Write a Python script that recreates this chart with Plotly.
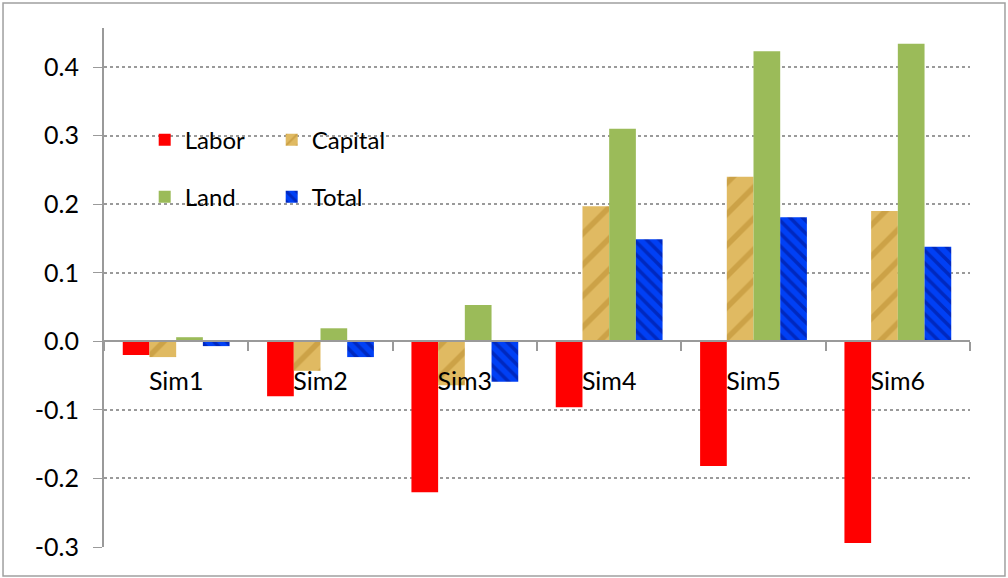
import plotly.graph_objects as go

categories = ["Sim1", "Sim2", "Sim3", "Sim4", "Sim5", "Sim6"]
labor = [-0.020, -0.080, -0.220, -0.096, -0.182, -0.294]
capital = [-0.023, -0.043, -0.064, 0.197, 0.240, 0.190]
land = [0.006, 0.019, 0.053, 0.310, 0.423, 0.434]
total = [-0.007, -0.023, -0.059, 0.149, 0.181, 0.138]
y_ticks = [0.4, 0.3, 0.2, 0.1, 0.0, -0.1, -0.2, -0.3]
y_tick_text = ["0.4", "0.3", "0.2", "0.1", "0.0", "-0.1", "-0.2", "-0.3"]

FONT = "Lato"
fig = go.Figure()
fig.add_trace(go.Bar(name="Labor", x=categories, y=labor,
                     marker=dict(color="#FF0000", line=dict(width=0)), legend="legend"))
fig.add_trace(go.Bar(name="Capital", x=categories, y=capital,
                     marker=dict(color="#DDB45C", line=dict(width=0),
                                 pattern=dict(shape="/", fgcolor="#B8892C", bgcolor="#E0BA62",
                                              size=22, solidity=0.25)),
                     legend="legend"))
fig.add_trace(go.Bar(name="Land", x=categories, y=land,
                     marker=dict(color="#9BBB59", line=dict(width=0)), legend="legend2"))
fig.add_trace(go.Bar(name="Total", x=categories, y=total,
                     marker=dict(color="#0035E0", line=dict(width=0),
                                 pattern=dict(shape="\\", fgcolor="#00108A", bgcolor="#0040F5",
                                              size=9, solidity=0.4)),
                     legend="legend2"))

ymin, ymax = -0.3, 0.457
zero_pos = (0 - ymin) / (ymax - ymin)

fig.update_layout(
    width=1008, height=578,
    margin=dict(l=104, r=38, t=28, b=31),
    paper_bgcolor="white", plot_bgcolor="white",
    barmode="group", bargap=0.26, bargroupgap=0,
    font=dict(family=FONT, size=24, color="black"),
    legend=dict(orientation="h", x=0.047, y=0.784, xanchor="left", yanchor="middle",
                entrywidth=82, entrywidthmode="pixels", font=dict(size=24, family=FONT),
                bgcolor="rgba(0,0,0,0)", traceorder="normal", itemclick=False),
    legend2=dict(orientation="h", x=0.047, y=0.674, xanchor="left", yanchor="middle",
                 entrywidth=82, entrywidthmode="pixels", font=dict(size=24, family=FONT),
                 bgcolor="rgba(0,0,0,0)", traceorder="normal", itemclick=False),
    xaxis=dict(anchor="free", position=zero_pos, showline=True, linecolor="#9A9A9A", linewidth=2,
               ticks="outside", tickson="boundaries", ticklen=9, tickwidth=2, tickcolor="#9A9A9A",
               ticklabelstandoff=18, showgrid=False, zeroline=False,
               tickfont=dict(size=25, family=FONT)),
    yaxis=dict(range=[ymin, ymax], tickvals=y_ticks, ticktext=y_tick_text,
               showline=True, linecolor="#9A9A9A", linewidth=2,
               ticks="outside", ticklen=9, tickwidth=1, tickcolor="#9A9A9A",
               ticklabelstandoff=9,
               showgrid=True, gridcolor="#9A9A9A", griddash="dot", gridwidth=1.5,
               zeroline=False, tickfont=dict(size=25, family=FONT)),
    shapes=[dict(type="rect", xref="paper", yref="paper",
                 x0=-0.1166, x1=1.0404, y0=-0.0559, y1=1.0482,
                 line=dict(color="#A0A0A0", width=1.5), fillcolor="rgba(0,0,0,0)", layer="below")],
)

fig.write_html("out.html")
